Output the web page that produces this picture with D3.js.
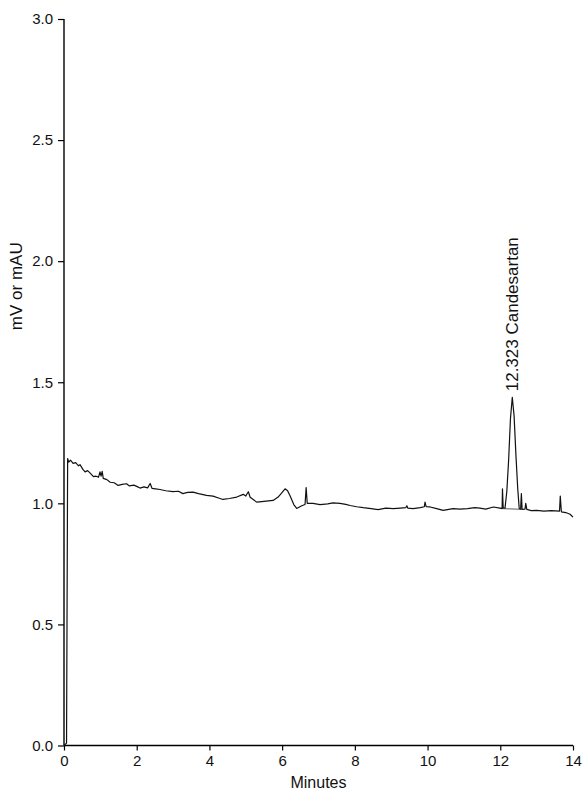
<!DOCTYPE html>
<html>
<head>
<meta charset="utf-8">
<script src="https://cdn.jsdelivr.net/npm/d3@7"></script>
<style>
  body { margin: 0; background: #fff; }
  svg { display: block; font-family: "Liberation Sans", Arial, sans-serif; }
</style>
</head>
<body>
<svg id="chart"></svg>
<script>
// chromatogram trace: minutes / signal
var times = [0.00, 0.07, 0.10, 0.13, 0.18, 0.25, 0.32, 0.40, 0.44, 0.52, 0.58, 0.65, 0.72, 0.81, 0.88, 0.95, 0.99, 1.02, 1.05, 1.08,
  1.18, 1.27, 1.38, 1.49, 1.60, 1.72, 1.80, 1.92, 2.00, 2.09, 2.20, 2.30, 2.37, 2.42, 2.52, 2.64, 2.80, 3.00, 3.15, 3.27, 3.40, 3.55,
  3.70, 3.92, 4.10, 4.25, 4.37, 4.55, 4.75, 4.93, 5.00, 5.07, 5.12, 5.30, 5.50, 5.75, 5.89, 6.00, 6.08, 6.15, 6.22, 6.32, 6.40, 6.54,
  6.63, 6.66, 6.69, 6.85, 7.04, 7.12, 7.25, 7.40, 7.59, 7.75, 7.87, 8.05, 8.23, 8.45, 8.64, 8.85, 9.06, 9.25, 9.40, 9.43, 9.46, 9.60,
  9.80, 9.91, 9.93, 9.96, 10.07, 10.25, 10.43, 10.70, 10.89, 11.10, 11.30, 11.44, 11.60, 11.81, 11.99, 12.05, 12.06, 12.08, 12.13,
  12.18, 12.23, 12.28, 12.33, 12.38, 12.43, 12.48, 12.52, 12.56, 12.58, 12.60, 12.68, 12.70, 12.73, 12.85, 13.00, 13.20, 13.40, 13.63,
  13.65, 13.68, 13.80, 13.92, 14.00];
var signal = [0.00, 0.01, 1.185, 1.170, 1.178, 1.165, 1.168, 1.155, 1.160, 1.140, 1.130, 1.135, 1.125, 1.110, 1.112, 1.108, 1.130, 1.112, 1.132, 1.103,
  1.098, 1.087, 1.085, 1.074, 1.078, 1.081, 1.072, 1.075, 1.070, 1.063, 1.068, 1.064, 1.082, 1.062, 1.060, 1.057, 1.052, 1.048, 1.050, 1.040, 1.045, 1.046,
  1.040, 1.033, 1.030, 1.022, 1.016, 1.020, 1.026, 1.037, 1.030, 1.048, 1.025, 1.005, 1.008, 1.012, 1.026, 1.045, 1.060, 1.052, 1.030, 0.995, 0.979, 0.990,
  0.995, 1.065, 1.000, 1.000, 0.995, 0.996, 0.998, 1.002, 1.000, 0.996, 0.991, 0.986, 0.982, 0.978, 0.974, 0.980, 0.978, 0.980, 0.982, 0.990, 0.980, 0.978,
  0.982, 0.986, 1.005, 0.986, 0.985, 0.978, 0.971, 0.978, 0.976, 0.978, 0.982, 0.980, 0.976, 0.985, 0.980, 0.978, 1.060, 0.980, 0.980,
  1.050, 1.180, 1.350, 1.438, 1.360, 1.200, 1.060, 0.980, 0.976, 1.040, 0.975, 0.976, 1.000, 0.975, 0.970, 0.971, 0.968, 0.970, 0.968,
  1.030, 0.965, 0.962, 0.955, 0.943];
// integration baseline under the peak
var baseTimes = [12.08, 12.66];
var baseSignal = [0.978, 0.975];
var xTicks = [0, 2, 4, 6, 8, 10, 12, 14];
var yTicks = [0.0, 0.5, 1.0, 1.5, 2.0, 2.5, 3.0];
var peakTime = 12.323;
var peakValue = 1.438;
var peakLabel = '12.323 Candesartan';

var W = 584, H = 790;
var margin = {top: 19, right: 11, bottom: 44.5, left: 64};
var width = W - margin.left - margin.right,
    height = H - margin.top - margin.bottom;

var svg = d3.select('#chart')
    .attr('width', W)
    .attr('height', H)
  .append('g')
    .attr('transform', 'translate(' + margin.left + ',' + margin.top + ')');

var x = d3.scaleLinear().domain([0, 14]).range([0, width]);
var y = d3.scaleLinear().domain([0, 3]).range([height, 0]);

var xAxis = svg.append('g')
    .attr('transform', 'translate(0,' + height + ')')
    .call(d3.axisBottom(x).tickValues(xTicks).tickSize(5).tickPadding(4.5).tickFormat(d3.format('d')));
var yAxis = svg.append('g')
    .call(d3.axisLeft(y).tickValues(yTicks).tickSize(6).tickPadding(5).tickFormat(d3.format('.1f')));

[xAxis, yAxis].forEach(function(a) {
  a.select('.domain').attr('stroke', '#000').attr('stroke-width', 1.4);
  a.selectAll('.tick line').attr('stroke', '#000').attr('stroke-width', 1.2);
  a.selectAll('.tick text').attr('fill', '#111').style('font-size', '15px')
      .style('font-family', '"Liberation Sans", Arial, sans-serif');
});
// no outer tick at the ends of the domain
xAxis.select('.domain').attr('d', 'M0,0H' + width);
yAxis.select('.domain').attr('d', 'M0,' + height + 'V0');

var trace = times.map(function(t, i) { return [t, signal[i]]; });
var line = d3.line()
    .x(function(d) { return x(d[0]); })
    .y(function(d) { return y(d[1]); });

svg.append('path')
    .datum(trace)
    .attr('d', line)
    .attr('fill', 'none')
    .attr('stroke', '#111')
    .attr('stroke-width', 1.2)
    .attr('stroke-linejoin', 'round');

svg.append('path')
    .datum(baseTimes.map(function(t, i) { return [t, baseSignal[i]]; }))
    .attr('d', line)
    .attr('fill', 'none')
    .attr('stroke', '#333')
    .attr('stroke-width', 0.8);

svg.append('text')
    .attr('transform', 'translate(' + (x(peakTime) + 6) + ',' + (y(peakValue) - 6) + ') rotate(-90)')
    .attr('text-anchor', 'start')
    .style('font-size', '17px')
    .attr('fill', '#111')
    .text(peakLabel);

svg.append('text')
    .attr('x', x(7))
    .attr('y', height + 42)
    .attr('text-anchor', 'middle')
    .style('font-size', '16px')
    .attr('fill', '#111')
    .text('Minutes');

svg.append('text')
    .attr('transform', 'translate(' + (-42) + ',' + (y(1.5) - 96) + ') rotate(-90)')
    .attr('text-anchor', 'middle')
    .style('font-size', '17px')
    .attr('fill', '#111')
    .text('mV or mAU');
</script>
</body>
</html>
